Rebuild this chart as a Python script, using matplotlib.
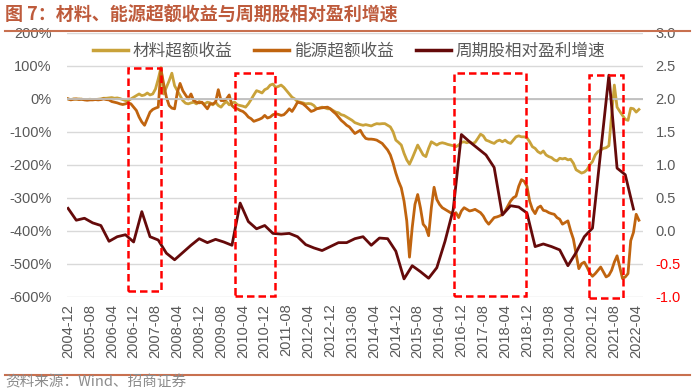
import numpy as np
import pandas as pd
import matplotlib
matplotlib.use("Agg")
import matplotlib.pyplot as plt
from matplotlib.patches import Rectangle
from matplotlib.lines import Line2D

# monthly excess returns (%), starting 2004-12
start_month = "2004-12"
material = [
    0, -2, 0, -1, 0, -1, -2, -2, -1, -2, -2, -1,
    0, 2, 2, 3, 4, 2, 3, 1, -2, -5,
    -5, 0, 5, 10, 15, 10, 12, 18, 12, 15, 30, 60,
    95, 15, 35, 55, 78, 40, 25, 10, -5, -13, -15, -12,
    -10, -15, -8, -12, -15, -10, -12, -18, -10, -20, -25, -15, -8, -18, -12,
    -10, -18, -20, -22, -25, -15, -2, 12, 25, 22, 18, 28, 32, 42, 45, 35, 38, 42, 35, 25, 15, 5, 0,
    -8, -10, -12, -15, -14, -15, -20, -30, -28, -25, -27, -30, -30, -35, -40, -42, -48, -50, -55, -60,
    -65, -72, -75, -78, -80, -78, -80, -82, -78, -75, -76, -75, -75, -80, -85, -100, -125, -132, -140,
    -165, -185, -198,
    -180, -160, -140, -155, -170, -175, -150, -130, -135, -140, -135, -133, -135, -138, -140, -142,
    -145, -140, -132, -130, -133, -130, -135, -132, -120, -107, -112, -125, -128, -132, -135, -128,
    -125, -130, -125, -132, -135, -125, -115, -112, -115, -115, -118, -130, -145, -150, -160, -165,
    -158, -170, -175, -178, -185, -188, -180, -182, -180, -185, -183, -195, -215, -220, -225, -222,
    -215, -200, -190, -170, -160, -155, -150, -148, -142, -50, 42, -25, -38, -50, -62, -65, -28,
    -30, -40, -32,
]
energy = [
    0, -3, -1, 0, -2, -1, -3, -4, -3, -3, -2, -3,
    -2, 0, -2, -3, -8, -10, -12, -15, -17, -15,
    -12, -15, -25, -35, -55, -70, -80, -60, -40, -32, -28, -25,
    90, 45, 5, -20, -28, -30, 20, 47, 25, 12, 0, 15,
    -5, -10, -12, -10, -20, -30, -15, -15, -10, 28, -5, -5, 0, 12, -20,
    -28, -30, -35, -38, -45, -55, -60, -68, -65, -62, -58, -50, -58, -55, -48, -45, -47, -50, -48,
    -40, -30, -38, -25,
    -10, -12, -15, -22, -30, -38, -35, -30, -28, -27, -26, -25, -30, -38, -45, -55, -65, -72, -80,
    -85, -95, -105, -100, -95, -110, -120, -122, -122, -123, -125, -130, -135, -145, -155, -170,
    -195, -225, -250, -270, -310, -370, -480,
    -390, -320, -290, -330, -380, -390, -415, -330, -268, -305, -320, -330, -335, -340, -345, -350,
    -345, -360, -340, -330, -335, -340, -338, -335, -340, -345, -355, -370, -380, -370, -360, -358,
    -355, -350, -340, -325, -310, -300, -295, -265, -245, -250, -265, -310, -335, -348, -330, -325,
    -338, -340, -345, -348, -350, -360, -365, -380, -375, -370, -400, -425, -470, -515, -500, -495,
    -510, -528, -538, -530, -520, -510, -525, -540, -535, -520, -495, -476, -510, -545, -540, -530,
    -430, -405, -350, -368,
]
# quarterly relative profit growth of cyclical stocks (right axis)
profit_step = 3
profit = [
    0.34, 0.16, 0.19, 0.12, 0.08, -0.16, -0.09, -0.06, -0.17, 0.29,
    -0.09, -0.14, -0.34, -0.44, -0.33, -0.22, -0.12, -0.18, -0.13, -0.17,
    -0.22, 0.42, 0.14, 0.03, 0.08, -0.04, -0.05, -0.04, -0.09, -0.21,
    -0.26, -0.30, -0.24, -0.18, -0.18, -0.12, -0.09, -0.22, -0.11, -0.12,
    -0.31, -0.73, -0.53, -0.62, -0.72, -0.56, -0.16, 0.32, 1.46, 1.35,
    1.25, 1.15, 0.96, 0.24, 0.38, 0.36, 0.27, -0.24, -0.20, -0.24,
    -0.29, -0.53, -0.33, -0.09, 0.04, 1.20, 2.36, 0.95, 0.85, 0.33,
]
# highlighted periods (month offsets from start)
highlights = [(22.0, 34.2, 93, -584), (61.0, 75.9, 78, -599),
              (141.4, 167.6, 78, -599), (190.7, 203.0, 73, -603)]

labels = ["材料超额收益", "能源超额收益", "周期股相对盈利增速"]
colors = ["#C9A23A", "#C0640F", "#650A0A"]
left_ticks = [200, 100, 0, -100, -200, -300, -400, -500, -600]
right_ticks = [3.0, 2.5, 2.0, 1.5, 1.0, 0.5, 0.0, -0.5, -1.0]

cjk = ["Noto Sans CJK SC", "DejaVu Sans"]
grey = "#595959"

fig = plt.figure(figsize=(7, 3.88), dpi=100)
ax = fig.add_axes([0.0953, 0.2353, 0.8233, 0.6797])
ax2 = ax.twinx()

x = np.arange(len(material))
px = np.arange(len(profit)) * profit_step
ax.plot(x, material, color=colors[0], lw=2)
ax.plot(x, energy, color=colors[1], lw=2)
ax2.plot(px, profit, color=colors[2], lw=2)

ax.set_ylim(-600, 200)
ax2.set_ylim(-1, 3)
ax.set_xlim(-0.5, 210.5)

ax.set_yticks(left_ticks)
ax.set_yticklabels([f"{v}%" for v in left_ticks], fontsize=10.5,
                   color=grey, family="Liberation Sans")
ax2.set_yticks(right_ticks)
ax2.set_yticklabels([f"{v:.1f}" for v in right_ticks], fontsize=10.5,
                    family="Liberation Sans")
for t, v in zip(ax2.get_yticklabels(), right_ticks):
    t.set_color("red" if v < 0 else grey)

dates = pd.period_range(start_month, periods=len(material), freq="M")
ax.set_xticks(x[::8])
ax.set_xticklabels([d.strftime("%Y-%m") for d in dates[::8]], rotation=90,
                   fontsize=10.5, color=grey, family="Liberation Sans")

ax.tick_params(axis="both", length=0)
ax.tick_params(axis="y", pad=11)
ax.tick_params(axis="x", pad=5)
ax2.tick_params(axis="y", length=0, pad=9)

ax.grid(axis="y", color="#D9D9D9", lw=1)
ax.axhline(0, color="#BFBFBF", lw=1.3)
for a in (ax, ax2):
    for s in a.spines.values():
        s.set_visible(False)

for x0, x1, y0, y1 in highlights:
    ax2.add_patch(Rectangle((x0, y1), x1 - x0, y0 - y1, transform=ax.transData,
                            fill=False, edgecolor="#FF0000", lw=1.8,
                            linestyle=(0, (3, 1.6)), clip_on=False, zorder=5))

handles = [Line2D([], [], color=c, lw=2.5) for c in colors]
ax2.legend(handles, labels, loc="upper center", bbox_to_anchor=(0.49, 1.02),
           ncol=3, frameon=False, handlelength=2.1, handletextpad=0.3,
           columnspacing=1.3, prop={"family": cjk, "size": 12},
           labelcolor=grey)

fig.text(0.007, 0.962, "图 7：材料、能源超额收益与周期股相对盈利增速",
         family=cjk, fontsize=13, fontweight="bold", color="#BE5B3C",
         va="center", ha="left")
fig.add_artist(Line2D([0.007, 0.986], [0.921, 0.921], color="#C8704F", lw=1.5))
fig.add_artist(Line2D([0.007, 0.986], [0.034, 0.034], color="#C8704F", lw=1.5))
fig.text(0.007, 0.016, "资料来源：Wind、招商证券", family=cjk, fontsize=10.5,
         color="#8C8C8C", va="center", ha="left")

fig.savefig("out.png", dpi=100)
